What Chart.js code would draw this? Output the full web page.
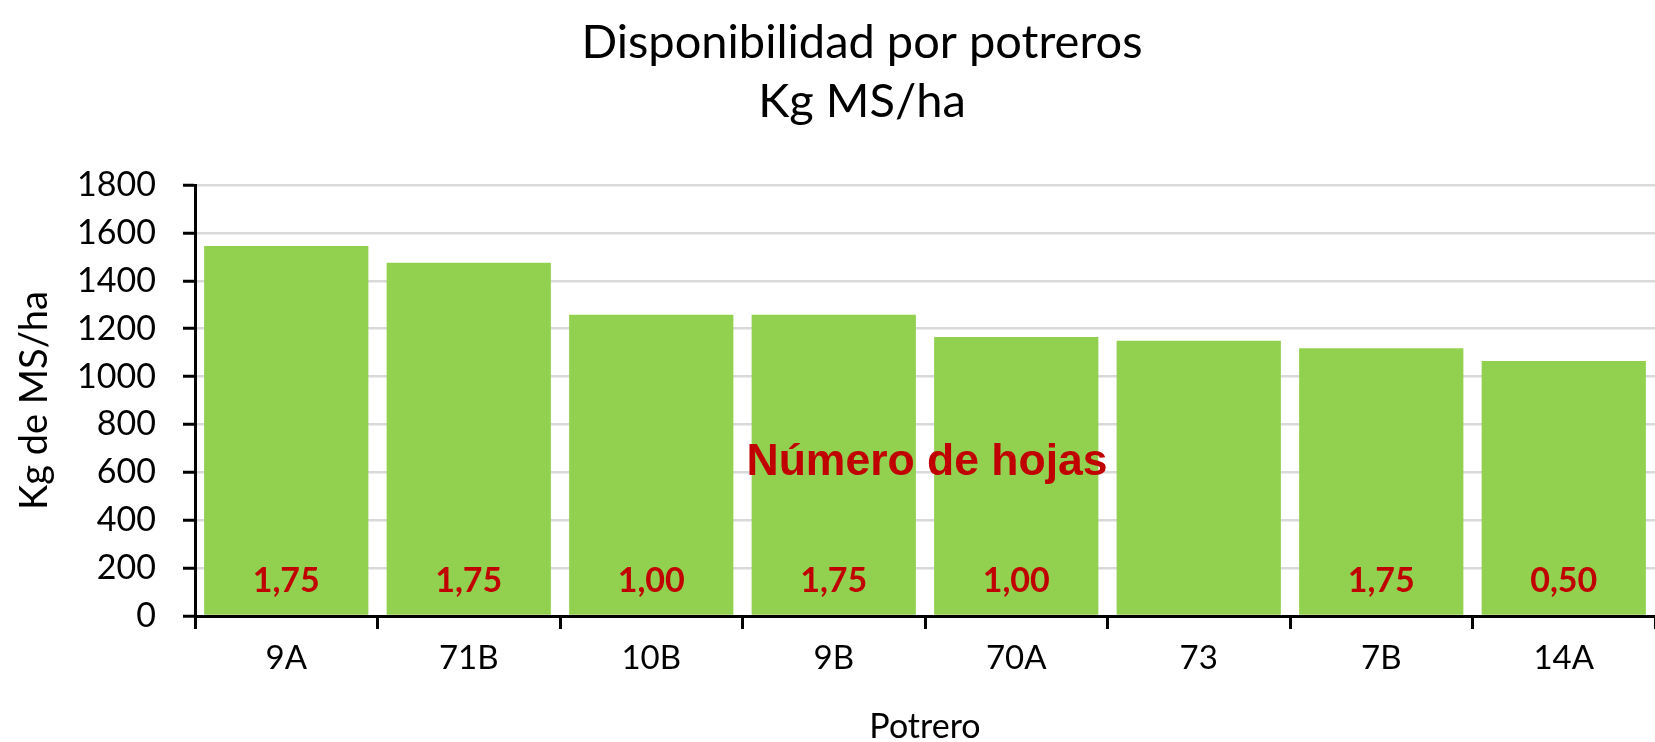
<!DOCTYPE html>
<html lang="es">
<head>
<meta charset="utf-8">
<title>Disponibilidad por potreros</title>
<script src="https://cdn.jsdelivr.net/npm/chart.js@4/dist/chart.umd.min.js"></script>
<style>
  html, body { margin: 0; padding: 0; background: #fff; }
  #wrap { width: 1655px; height: 742px; position: relative; }
</style>
</head>
<body>
<div id="wrap"><canvas id="chart"></canvas></div>
<script>
// --- Data ---
const potreros = ['9A', '71B', '10B', '9B', '70A', '73', '7B', '14A'];
const kgMS = [1545, 1475, 1258, 1258, 1165, 1150, 1118, 1065];
const numeroHojas = [1.75, 1.75, 1.00, 1.75, 1.00, null, 1.75, 0.50];
const yTicks = [0, 200, 400, 600, 800, 1000, 1200, 1400, 1600, 1800];

const FONT = 'Lato, Calibri, "Open Sans", sans-serif';

// Title + annotations drawn on top of the chart
const overlayPlugin = {
    id: 'overlay',
    afterDatasetsDraw(chart) {
        const { ctx, chartArea, scales } = chart;
        const x = scales.x, y = scales.y;
        ctx.save();

        // leaf count inside each bar
        ctx.fillStyle = '#C00000';
        ctx.font = 'bold 34px ' + FONT;
        ctx.textAlign = 'center';
        ctx.textBaseline = 'middle';
        numeroHojas.forEach((v, i) => {
            if (v === null) return;
            ctx.fillText(v.toFixed(2).replace('.', ','), x.getPixelForValue(i), y.getPixelForValue(145));
        });

        // "Número de hojas" label
        ctx.font = 'bold 44.5px "Liberation Sans", Arial, sans-serif';
        ctx.fillText('Número de hojas', (chartArea.left + chartArea.right) / 2 + 2, y.getPixelForValue(640));

        // chart title, two lines
        ctx.fillStyle = '#000';
        ctx.font = '47px ' + FONT;
        ctx.textBaseline = 'alphabetic';
        ctx.fillText('Disponibilidad por potreros', 862, 58);
        ctx.fillText('Kg MS/ha', 862, 117);
        ctx.restore();
    }
};

const ctx = document.getElementById('chart').getContext('2d');
new Chart(ctx, {
    type: 'bar',
    data: {
        labels: potreros,
        datasets: [{
            label: 'Kg de MS/ha',
            data: kgMS,
            backgroundColor: '#92D050',
            borderWidth: 0,
            barPercentage: 0.9,
            categoryPercentage: 1.0
        }]
    },
    options: {
        responsive: true,
        maintainAspectRatio: false,
        animation: false,
        layout: { padding: { top: 185, right: 0, bottom: 0, left: 0 } },
        plugins: {
            legend: { display: false },
            tooltip: { enabled: false },
            title: { display: false }
        },
        scales: {
            x: {
                offset: true,
                afterFit(scale) { scale.height = 126; },
                grid: {
                    display: true,
                    offset: true,
                    drawOnChartArea: false,
                    drawTicks: true,
                    tickLength: 13,
                    tickColor: '#000',
                    tickWidth: 3
                },
                border: { display: true, color: '#000', width: 3 },
                ticks: {
                    color: '#000',
                    font: { family: FONT, size: 33 },
                    padding: 10,
                    maxRotation: 0
                },
                title: {
                    display: true,
                    text: 'Potrero',
                    color: '#000',
                    font: { family: FONT, size: 34 },
                    padding: { top: 0, bottom: -5 }
                }
            },
            y: {
                min: 0,
                max: 1800,
                afterFit(scale) { scale.width = 195; },
                afterBuildTicks(scale) { scale.ticks = yTicks.map(v => ({ value: v })); },
                grid: {
                    color: '#D9D9D9',
                    lineWidth: 2.5,
                    tickColor: '#000',
                    tickWidth: 3,
                    tickLength: 12
                },
                border: { display: true, color: '#000', width: 3 },
                ticks: {
                    color: '#000',
                    font: { family: FONT, size: 34 },
                    padding: 27,
                    callback: value => String(value)
                },
                title: {
                    display: true,
                    text: 'Kg de MS/ha',
                    color: '#000',
                    font: { family: FONT, size: 38 },
                    padding: { top: 12, bottom: 0 }
                }
            }
        }
    },
    plugins: [overlayPlugin]
});
</script>
</body>
</html>
